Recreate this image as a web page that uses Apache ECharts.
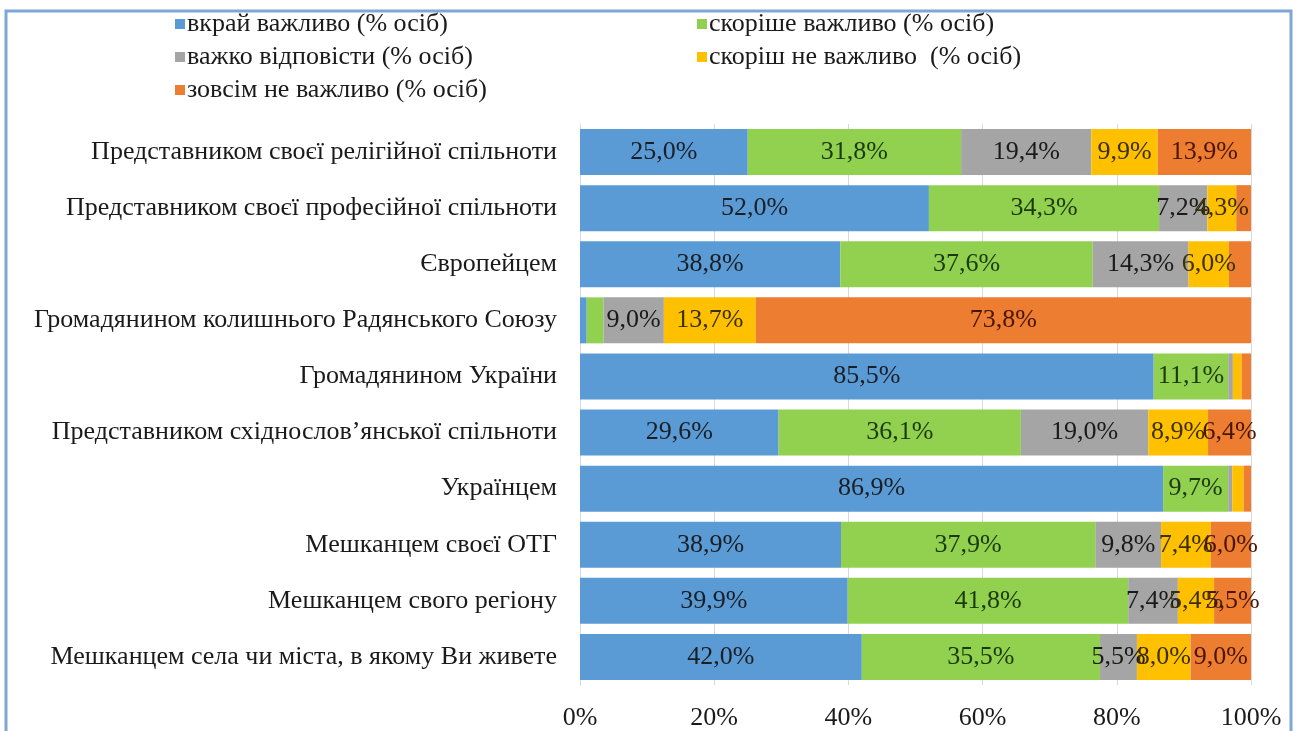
<!DOCTYPE html>
<html>
<head>
<meta charset="utf-8">
<script src="https://cdn.jsdelivr.net/npm/echarts@6/dist/echarts.min.js"></script>
<style>
html,body{margin:0;padding:0;background:#fff;}
#chart{width:1299px;height:731px;}
</style>
</head>
<body>
<div id="chart"></div>
<script>
const categories = [
  'Представником своєї релігійної спільноти',
  'Представником своєї професійної спільноти',
  'Європейцем',
  'Громадянином колишнього Радянського Союзу',
  'Громадянином України',
  'Представником східнослов’янської спільноти',
  'Українцем',
  'Мешканцем своєї ОТГ',
  'Мешканцем свого регіону',
  'Мешканцем села чи міста, в якому Ви живете'
];
const seriesNames = [
  'вкрай важливо (% осіб)',
  'скоріше важливо (% осіб)',
  'важко відповісти (% осіб)',
  'скоріш не важливо  (% осіб)',
  'зовсім не важливо (% осіб)'
];
const veryImportant   = [25.0, 52.0, 38.8, 1.0, 85.5, 29.6, 86.9, 38.9, 39.9, 42.0];
const ratherImportant = [31.8, 34.3, 37.6, 2.5, 11.1, 36.1, 9.7, 37.9, 41.8, 35.5];
const hardToSay       = [19.4, 7.2, 14.3, 9.0, 0.7, 19.0, 0.6, 9.8, 7.4, 5.5];
const ratherNot       = [9.9, 4.3, 6.0, 13.7, 1.3, 8.9, 1.7, 7.4, 5.4, 8.0];
const notAtAll        = [13.9, 2.2, 3.3, 73.8, 1.4, 6.4, 1.1, 6.0, 5.5, 9.0];
const xTicks = [0, 20, 40, 60, 80, 100];

const colors = ['#5b9bd5', '#92d050', '#a5a5a5', '#ffc000', '#ed7d31'];
const labelColors = ['#1a1f26', '#1b3a0c', '#1a1a1a', '#3d3000', '#4a1505'];
const allData = [veryImportant, ratherImportant, hardToSay, ratherNot, notAtAll];
const FONT = 'Liberation Serif';
const FS = 26;

const chart = echarts.init(document.getElementById('chart'));
chart.setOption({
  animation: false,
  textStyle: {fontFamily: FONT},
  graphic: [{
    type: 'polyline',
    shape: {points: [[6, 731], [6, 11], [1291, 11], [1291, 731]]},
    style: {stroke: '#7fa7d4', lineWidth: 3, fill: null}
  }],
  legend: [
    {
      data: [seriesNames[0], seriesNames[2], seriesNames[4]],
      orient: 'vertical', left: 170, top: 6, itemGap: 7,
      icon: 'rect', itemWidth: 10, itemHeight: 10,
      textStyle: {fontFamily: FONT, fontSize: FS, color: '#1a1a1a', padding: [0, 0, 0, -3]}
    },
    {
      data: [seriesNames[1], seriesNames[3]],
      orient: 'vertical', left: 692, top: 6, itemGap: 7,
      icon: 'rect', itemWidth: 10, itemHeight: 10,
      textStyle: {fontFamily: FONT, fontSize: FS, color: '#1a1a1a', padding: [0, 0, 0, -3]}
    }
  ],
  grid: {left: 580, right: 48, top: 124, bottom: 46, containLabel: false},
  xAxis: {
    type: 'value', min: 0, max: 100, interval: 20,
    axisLine: {show: false}, axisTick: {show: false},
    splitLine: {show: true, lineStyle: {color: '#d9d9d9', width: 1}},
    axisLabel: {
      fontFamily: FONT, fontSize: FS, color: '#1a1a1a', margin: 20,
      formatter: v => xTicks.includes(v) ? v + '%' : ''
    }
  },
  yAxis: {
    type: 'category', data: categories, inverse: true,
    axisLine: {show: true, lineStyle: {color: '#d9d9d9'}},
    axisTick: {show: false},
    axisLabel: {fontFamily: FONT, fontSize: FS, color: '#1a1a1a', margin: 23}
  },
  series: seriesNames.map((name, i) => ({
    name: name,
    type: 'bar',
    stack: 'total',
    barCategoryGap: '18%',
    data: allData[i],
    itemStyle: {color: colors[i]},
    label: {
      show: true, position: 'inside',
      fontFamily: FONT, fontSize: FS, color: labelColors[i],
      formatter: p => p.value >= 4 ? p.value.toFixed(1).replace('.', ',') + '%' : ''
    }
  }))
});
</script>
</body>
</html>
